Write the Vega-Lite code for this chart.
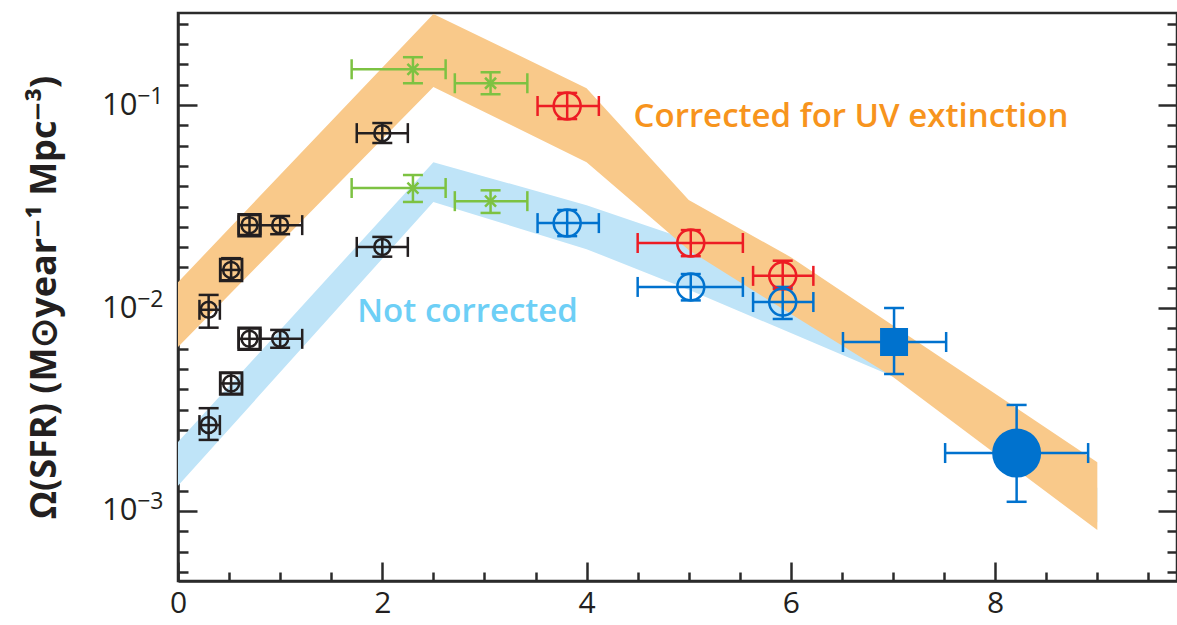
{
  "$schema": "https://vega.github.io/schema/vega-lite/v6.json",
  "width": 999,
  "height": 568,
  "autosize": {"type": "none"},
  "padding": {"left": 178, "top": 13, "right": 0, "bottom": 44},
  "background": "white",
  "config": {
    "font": "Open Sans",
    "view": {"stroke": "#2b2b2b", "strokeWidth": 2.5},
    "axis": {
      "grid": false,
      "domainColor": "#2b2b2b",
      "domainWidth": 2.5,
      "tickColor": "#2b2b2b",
      "tickWidth": 2.5,
      "labelFont": "Open Sans",
      "labelColor": "#231f20",
      "labelFontSize": 30,
      "titleFont": "Open Sans"
    }
  },
  "datasets": {
    "bands": [
      {"band": "uncorrected", "z": 0, "lo": 0.00133, "hi": 0.00219},
      {"band": "uncorrected", "z": 2.5, "lo": 0.0333, "hi": 0.0523},
      {"band": "uncorrected", "z": 4, "lo": 0.0195, "hi": 0.0321},
      {"band": "uncorrected", "z": 5, "lo": 0.0123, "hi": 0.0216},
      {"band": "uncorrected", "z": 6, "lo": 0.00753, "hi": 0.0115},
      {"band": "uncorrected", "z": 7, "lo": 0.0046, "hi": 0.0065},
      {"band": "uncorrected", "z": 9, "lo": 0.00088, "hi": 0.0013},
      {"band": "corrected", "z": 0, "lo": 0.00643, "hi": 0.0134},
      {"band": "corrected", "z": 2.5, "lo": 0.1227, "hi": 0.281},
      {"band": "corrected", "z": 4, "lo": 0.0523, "hi": 0.121},
      {"band": "corrected", "z": 5, "lo": 0.0193, "hi": 0.034},
      {"band": "corrected", "z": 6, "lo": 0.00933, "hi": 0.0178},
      {"band": "corrected", "z": 7, "lo": 0.00457, "hi": 0.0082},
      {"band": "corrected", "z": 9, "lo": 0.000805, "hi": 0.00174}
    ],
    "pts": [
      {"grp": "k", "kind": "circ", "z": 0.3, "v": 0.0098, "zlo": 0.21, "zhi": 0.41, "vlo": 0.0080, "vhi": 0.0116},
      {"grp": "k", "kind": "box", "z": 0.52, "v": 0.0154, "zlo": 0.415, "zhi": 0.625, "vlo": 0.0137, "vhi": 0.0176},
      {"grp": "k", "kind": "box", "z": 0.7, "v": 0.0256, "zlo": 0.595, "zhi": 0.805, "vlo": 0.0229, "vhi": 0.0287},
      {"grp": "k", "kind": "circ", "z": 1.0, "v": 0.0256, "zlo": 0.8, "zhi": 1.216, "vlo": 0.0231, "vhi": 0.0284},
      {"grp": "k", "kind": "circ", "z": 2.0, "v": 0.0727, "zlo": 1.75, "zhi": 2.25, "vlo": 0.065, "vhi": 0.0815},
      {"grp": "k", "kind": "circ", "z": 0.3, "v": 0.00265, "zlo": 0.21, "zhi": 0.41, "vlo": 0.00224, "vhi": 0.00321},
      {"grp": "k", "kind": "box", "z": 0.52, "v": 0.00425, "zlo": 0.415, "zhi": 0.625, "vlo": 0.00378, "vhi": 0.00478},
      {"grp": "k", "kind": "box", "z": 0.7, "v": 0.00705, "zlo": 0.595, "zhi": 0.805, "vlo": 0.00628, "vhi": 0.00792},
      {"grp": "k", "kind": "circ", "z": 1.0, "v": 0.00705, "zlo": 0.8, "zhi": 1.216, "vlo": 0.00637, "vhi": 0.0078},
      {"grp": "k", "kind": "circ", "z": 2.0, "v": 0.0200, "zlo": 1.75, "zhi": 2.25, "vlo": 0.0179, "vhi": 0.0224},
      {"grp": "g", "kind": "star", "z": 2.3, "v": 0.150, "zlo": 1.70, "zhi": 2.62, "vlo": 0.128, "vhi": 0.172},
      {"grp": "g", "kind": "star", "z": 3.06, "v": 0.128, "zlo": 2.71, "zhi": 3.42, "vlo": 0.113, "vhi": 0.145},
      {"grp": "g", "kind": "star", "z": 2.3, "v": 0.039, "zlo": 1.70, "zhi": 2.62, "vlo": 0.0333, "vhi": 0.0452},
      {"grp": "g", "kind": "star", "z": 3.06, "v": 0.0336, "zlo": 2.71, "zhi": 3.42, "vlo": 0.0294, "vhi": 0.038},
      {"grp": "r", "kind": "ring", "z": 3.81, "v": 0.0989, "zlo": 3.52, "zhi": 4.12, "vlo": 0.0853, "vhi": 0.1147},
      {"grp": "r", "kind": "ring", "z": 5.02, "v": 0.0209, "zlo": 4.5, "zhi": 5.53, "vlo": 0.0180, "vhi": 0.0242},
      {"grp": "r", "kind": "ring", "z": 5.92, "v": 0.0144, "zlo": 5.63, "zhi": 6.22, "vlo": 0.0124, "vhi": 0.0171},
      {"grp": "b", "kind": "ring", "z": 3.81, "v": 0.0262, "zlo": 3.52, "zhi": 4.12, "vlo": 0.0226, "vhi": 0.0304},
      {"grp": "b", "kind": "ring", "z": 5.02, "v": 0.0127, "zlo": 4.5, "zhi": 5.53, "vlo": 0.0109, "vhi": 0.0147},
      {"grp": "b", "kind": "ring", "z": 5.92, "v": 0.0107, "zlo": 5.63, "zhi": 6.22, "vlo": 0.00883, "vhi": 0.0127},
      {"grp": "b", "kind": "sq", "z": 7.01, "v": 0.0068, "zlo": 6.51, "zhi": 7.52, "vlo": 0.00473, "vhi": 0.0100},
      {"grp": "b", "kind": "disc", "z": 8.21, "v": 0.00193, "zlo": 7.51, "zhi": 8.91, "vlo": 0.00111, "vhi": 0.00333}
    ],
    "notes": [
      {"band": "corrected", "z": 4.46, "v": 0.0873, "text": "Corrected for UV extinction"},
      {"band": "uncorrected", "z": 1.755, "v": 0.00955, "text": "Not corrected"}
    ]
  },
  "resolve": {"axis": {"x": "independent", "y": "independent"}},
  "layer": [
    {
      "data": {"name": "bands"},
      "transform": [{"filter": "datum.band == 'uncorrected'"}],
      "mark": {"type": "area", "color": "#bfe4f8", "opacity": 1},
      "encoding": {
        "x": {
          "field": "z", "type": "quantitative",
          "scale": {"domain": [0, 9.78], "nice": false, "zero": false},
          "axis": {
            "orient": "bottom",
            "title": null,
            "values": [0, 0.5, 1, 1.5, 2, 2.5, 3, 3.5, 4, 4.5, 5, 5.5, 6, 6.5, 7, 7.5, 8, 8.5, 9, 9.5],
            "tickSize": -19,
            "tickDash": {"condition": {"test": "datum.value % 2 == 0", "value": [40, 0]}, "value": [9, 60]},
            "labelExpr": "datum.value % 2 == 0 ? format(datum.value, 'd') : ''",
            "labelFontSize": 30,
            "labelPadding": 26,
            "labelFlush": false,
            "labelOverlap": false
          }
        },
        "y": {
          "field": "lo", "type": "quantitative",
          "scale": {"type": "log", "domain": [0.000452, 0.284], "nice": false},
          "axis": {
            "orient": "left",
            "title": "Ω(SFR) (M⊙year⁻¹ Mpc⁻³)",
            "titleFontSize": 36,
            "titleFontWeight": "bold",
            "titleColor": "#231f20",
            "titlePadding": 38,
            "values": [0.000501187, 0.000630957, 0.000794328, 0.001, 0.00125893, 0.00158489, 0.00199526, 0.00251189, 0.00316228, 0.00398107, 0.00501187, 0.00630957, 0.00794328, 0.01, 0.0125893, 0.0158489, 0.0199526, 0.0251189, 0.0316228, 0.0398107, 0.0501187, 0.0630957, 0.0794328, 0.1, 0.125893, 0.158489, 0.199526, 0.251189],
            "tickSize": -19,
            "tickDash": {"condition": {"test": "datum.value == 0.1 || datum.value == 0.01 || datum.value == 0.001", "value": [40, 0]}, "value": [10, 60]},
            "labelExpr": "datum.value == 0.1 || datum.value == 0.01 || datum.value == 0.001 ? '10' : ''",
            "labelFontSize": 31,
            "labelPadding": 60,
            "labelFlush": false,
            "labelOverlap": false
          }
        },
        "y2": {"field": "hi"}
      }
    },
    {
      "data": {"name": "bands"},
      "transform": [{"filter": "datum.band == 'corrected'"}],
      "mark": {"type": "area", "color": "#f9c98a", "opacity": 1},
      "encoding": {
        "x": {"field": "z", "type": "quantitative", "axis": null},
        "y": {
          "field": "lo", "type": "quantitative",
          "axis": {
            "orient": "right",
            "title": null,
            "labels": false,
            "values": [0.000501187, 0.000630957, 0.000794328, 0.001, 0.00125893, 0.00158489, 0.00199526, 0.00251189, 0.00316228, 0.00398107, 0.00501187, 0.00630957, 0.00794328, 0.01, 0.0125893, 0.0158489, 0.0199526, 0.0251189, 0.0316228, 0.0398107, 0.0501187, 0.0630957, 0.0794328, 0.1, 0.125893, 0.158489, 0.199526, 0.251189],
            "tickSize": -19,
            "tickDash": {"condition": {"test": "datum.value == 0.1 || datum.value == 0.01 || datum.value == 0.001", "value": [40, 0]}, "value": [10, 60]}
          }
        },
        "y2": {"field": "hi"}
      }
    },
    {
      "data": {"name": "notes"},
      "transform": [{"filter": "datum.band == 'corrected'"}],
      "mark": {"type": "text", "align": "left", "baseline": "middle", "font": "Open Sans", "fontSize": 33, "fontWeight": 600, "color": "#f7941d"},
      "encoding": {
        "x": {"field": "z", "type": "quantitative", "axis": null},
        "y": {
          "field": "v", "type": "quantitative",
          "axis": {
            "orient": "left",
            "title": null,
            "values": [0.001, 0.01, 0.1],
            "ticks": false,
            "tickSize": 0,
            "domain": false,
            "labelExpr": "datum.value == 0.1 ? '−1' : datum.value == 0.01 ? '−2' : '−3'",
            "labelFontSize": 23,
            "labelPadding": 15,
            "labelOffset": -9,
            "labelFlush": false,
            "labelOverlap": false
          }
        },
        "text": {"field": "text"}
      }
    },
    {
      "data": {"name": "notes"},
      "transform": [{"filter": "datum.band == 'uncorrected'"}],
      "mark": {"type": "text", "align": "left", "baseline": "middle", "font": "Open Sans", "fontSize": 33, "fontWeight": 600, "color": "#6dcff6"},
      "encoding": {
        "x": {"field": "z", "type": "quantitative", "axis": null},
        "y": {"field": "v", "type": "quantitative", "axis": null},
        "text": {"field": "text"}
      }
    },
    {
      "data": {"name": "pts"},
      "mark": {"type": "rule", "strokeWidth": 2.5},
      "encoding": {
        "x": {"field": "zlo", "type": "quantitative", "axis": null},
        "x2": {"field": "zhi"},
        "y": {"field": "v", "type": "quantitative", "axis": null},
        "color": {"field": "grp", "type": "nominal", "legend": null, "scale": {"domain": ["k", "g", "r", "b"], "range": ["#231f20", "#7dc242", "#ed1c24", "#0072ce"]}}
      }
    },
    {
      "data": {"name": "pts"},
      "mark": {"type": "rule", "strokeWidth": 2.5},
      "encoding": {
        "x": {"field": "z", "type": "quantitative", "axis": null},
        "y": {"field": "vlo", "type": "quantitative", "axis": null},
        "y2": {"field": "vhi"},
        "color": {"field": "grp", "type": "nominal", "legend": null, "scale": {"domain": ["k", "g", "r", "b"], "range": ["#231f20", "#7dc242", "#ed1c24", "#0072ce"]}}
      }
    },
    {
      "data": {"name": "pts"},
      "transform": [{"fold": ["zlo", "zhi"], "as": ["end", "cz"]}],
      "mark": {"type": "point", "shape": "M0,-1L0,1", "size": 400, "strokeWidth": 2.5, "filled": false, "opacity": 1},
      "encoding": {
        "x": {"field": "cz", "type": "quantitative", "axis": null},
        "y": {"field": "v", "type": "quantitative", "axis": null},
        "color": {"field": "grp", "type": "nominal", "legend": null, "scale": {"domain": ["k", "g", "r", "b"], "range": ["#231f20", "#7dc242", "#ed1c24", "#0072ce"]}}
      }
    },
    {
      "data": {"name": "pts"},
      "transform": [{"fold": ["vlo", "vhi"], "as": ["end", "cv"]}],
      "mark": {"type": "point", "shape": "M-1,0L1,0", "size": 400, "strokeWidth": 2.5, "filled": false, "opacity": 1},
      "encoding": {
        "x": {"field": "z", "type": "quantitative", "axis": null},
        "y": {"field": "cv", "type": "quantitative", "axis": null},
        "color": {"field": "grp", "type": "nominal", "legend": null, "scale": {"domain": ["k", "g", "r", "b"], "range": ["#231f20", "#7dc242", "#ed1c24", "#0072ce"]}}
      }
    },
    {
      "data": {"name": "pts"},
      "transform": [{"filter": "datum.kind == 'circ' || datum.kind == 'box'"}],
      "mark": {"type": "point", "shape": "circle", "size": 256, "strokeWidth": 2.5, "filled": false, "opacity": 1},
      "encoding": {
        "x": {"field": "z", "type": "quantitative", "axis": null},
        "y": {"field": "v", "type": "quantitative", "axis": null},
        "color": {"field": "grp", "type": "nominal", "legend": null, "scale": {"domain": ["k", "g", "r", "b"], "range": ["#231f20", "#7dc242", "#ed1c24", "#0072ce"]}}
      }
    },
    {
      "data": {"name": "pts"},
      "transform": [{"filter": "datum.kind == 'box'"}],
      "mark": {"type": "point", "shape": "square", "size": 484, "strokeWidth": 2.5, "filled": false, "opacity": 1},
      "encoding": {
        "x": {"field": "z", "type": "quantitative", "axis": null},
        "y": {"field": "v", "type": "quantitative", "axis": null},
        "color": {"field": "grp", "type": "nominal", "legend": null, "scale": {"domain": ["k", "g", "r", "b"], "range": ["#231f20", "#7dc242", "#ed1c24", "#0072ce"]}}
      }
    },
    {
      "data": {"name": "pts"},
      "transform": [{"filter": "datum.kind == 'star'"}],
      "mark": {"type": "point", "shape": "M-1,-1L1,1M-1,1L1,-1", "size": 121, "strokeWidth": 2.5, "filled": false, "opacity": 1},
      "encoding": {
        "x": {"field": "z", "type": "quantitative", "axis": null},
        "y": {"field": "v", "type": "quantitative", "axis": null},
        "color": {"field": "grp", "type": "nominal", "legend": null, "scale": {"domain": ["k", "g", "r", "b"], "range": ["#231f20", "#7dc242", "#ed1c24", "#0072ce"]}}
      }
    },
    {
      "data": {"name": "pts"},
      "transform": [{"filter": "datum.kind == 'ring'"}],
      "mark": {"type": "point", "shape": "circle", "size": 729, "strokeWidth": 2.5, "filled": false, "opacity": 1},
      "encoding": {
        "x": {"field": "z", "type": "quantitative", "axis": null},
        "y": {"field": "v", "type": "quantitative", "axis": null},
        "color": {"field": "grp", "type": "nominal", "legend": null, "scale": {"domain": ["k", "g", "r", "b"], "range": ["#231f20", "#7dc242", "#ed1c24", "#0072ce"]}}
      }
    },
    {
      "data": {"name": "pts"},
      "transform": [{"filter": "datum.kind == 'sq'"}],
      "mark": {"type": "point", "shape": "square", "size": 784, "filled": true, "opacity": 1},
      "encoding": {
        "x": {"field": "z", "type": "quantitative", "axis": null},
        "y": {"field": "v", "type": "quantitative", "axis": null},
        "color": {"field": "grp", "type": "nominal", "legend": null, "scale": {"domain": ["k", "g", "r", "b"], "range": ["#231f20", "#7dc242", "#ed1c24", "#0072ce"]}}
      }
    },
    {
      "data": {"name": "pts"},
      "transform": [{"filter": "datum.kind == 'disc'"}],
      "mark": {"type": "point", "shape": "circle", "size": 2400, "filled": true, "opacity": 1},
      "encoding": {
        "x": {"field": "z", "type": "quantitative", "axis": null},
        "y": {"field": "v", "type": "quantitative", "axis": null},
        "color": {"field": "grp", "type": "nominal", "legend": null, "scale": {"domain": ["k", "g", "r", "b"], "range": ["#231f20", "#7dc242", "#ed1c24", "#0072ce"]}}
      }
    }
  ]
}
